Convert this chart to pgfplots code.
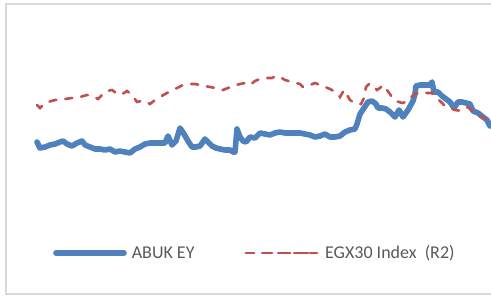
\documentclass[border=0pt]{standalone}
\usepackage{fontspec}
\setmainfont{Carlito}
\usepackage{pgfplots}
\pgfplotsset{compat=1.18}
\definecolor{abuk}{HTML}{4F81BD}
\definecolor{egx}{HTML}{C0504D}
\definecolor{txt}{HTML}{595959}
\definecolor{frame}{HTML}{D9D9D9}
\pgfplotsset{
  bluelegend/.style={legend image code/.code={\draw[##1] (0pt,0pt) -- (68pt,0pt);}},
  redlegend/.style={legend image code/.code={\draw[##1, dash pattern=on 8pt off 10pt] (0pt,0pt) -- (62pt,0pt);\path (0pt,0pt) -- (72.7pt,0pt);}},
}
\begin{document}
\begin{tikzpicture}
\begin{axis}[
  scale only axis, width=491pt, height=296pt,
  xmin=0, xmax=491, ymin=0, ymax=296, y dir=reverse,
  axis lines=none, ticks=none,
  legend columns=2,
  legend style={at={(axis cs:53,253)}, anchor=west, draw=none, fill=none,
    inner sep=0pt, font=\fontsize{18}{20}\selectfont, text=txt,
    /tikz/every odd column/.append style={column sep=3pt},
    /tikz/every even column/.append style={column sep=48.3pt}},
]
\addplot[abuk, line width=5.6pt, line cap=round, line join=round, bluelegend]
coordinates {
(37,142)(40,148)(45,147)(50,145)(55,144)(60,142)(63,141)(67,144)(72,146)(77,143)
(82,141)(85,145)(90,147)(95,149)(100,149)(105,150)(110,149)(115,152)(120,151)(125,152)
(130,153)(135,149)(140,147)(145,144)(150,143)(155,143)(160,143)(165,143)(168,136)(172,145)
(176,141)(180,128)(184,134)(188,141)(192,147)(196,147)(200,146)(205,139)(208,142)(212,146)
(216,148)(220,149)(225,150)(230,150)(233,152)(235,152)(237,129)(240,137)(243,141)(246,142)
(250,137)(255,138)(260,133)(265,134)(270,135)(275,133)(280,132)(285,133)(290,133)(295,133)
(300,133)(305,134)(310,135)(315,137)(320,136)(325,134)(330,137)(335,137)(340,136)(345,132)
(350,130)(355,129)(357,124)(360,114)(364,108)(368,102)(372,101)(376,104)(378,108)(382,108)
(386,109)(390,112)(395,117)(399,110)(403,117)(408,110)(413,101)(415,94)(416,86)(420,85)
(425,85)(430,85)(432,82)(434,92)(438,92)(442,96)(446,99)(450,102)(454,108)(458,102)
(462,102)(466,103)(470,104)(473,111)(478,113)(483,117)(487,120)(490,126)
};
\addlegendentry{ABUK EY}
\addplot[egx, line width=2.6pt, line cap=round, dash pattern=on 7pt off 9pt, redlegend]
coordinates {
(37,105)(40,108)(44,104)(48,102)(55,100)(65,99)(72,98)(80,97)(87,95)(92,96)
(98,99)(102,95)(107,91)(112,90)(116,93)(120,95)(124,93)(127,91)(132,95)(137,102)
(141,101)(145,101)(150,104)(155,100)(160,97)(167,93)(175,89)(183,85)(190,84)(195,84)
(200,85)(205,86)(210,87)(215,88)(223,90)(228,88)(233,86)(240,84)(245,83)(250,85)
(255,81)(260,79)(265,78)(272,78)(276,76)(280,77)(285,80)(292,82)(300,84)(303,87)
(310,85)(315,83)(320,85)(330,89)(337,93)(340,97)(344,90)(350,100)(356,104)(361,104)
(364,98)(366,87)(369,84)(373,85)(377,90)(380,88)(383,85)(387,90)(392,97)(396,101)
(402,103)(406,102)(410,98)(415,94)(420,93)(425,93)(432,93)(435,97)(440,101)(445,106)
(450,108)(455,110)(462,111)(466,108)(468,107)(471,110)(475,113)(480,116)(485,118)(490,123)
};
\addlegendentry{EGX30 Index\ \ (R2)}
\draw[frame, line width=1.4pt] (axis cs:496,4) -- (axis cs:6,4) -- (axis cs:6,294) -- (axis cs:496,294);
\end{axis}
\pgfresetboundingbox
\path[use as bounding box] (0,0) rectangle (491pt,296pt);
\end{tikzpicture}
\end{document}
